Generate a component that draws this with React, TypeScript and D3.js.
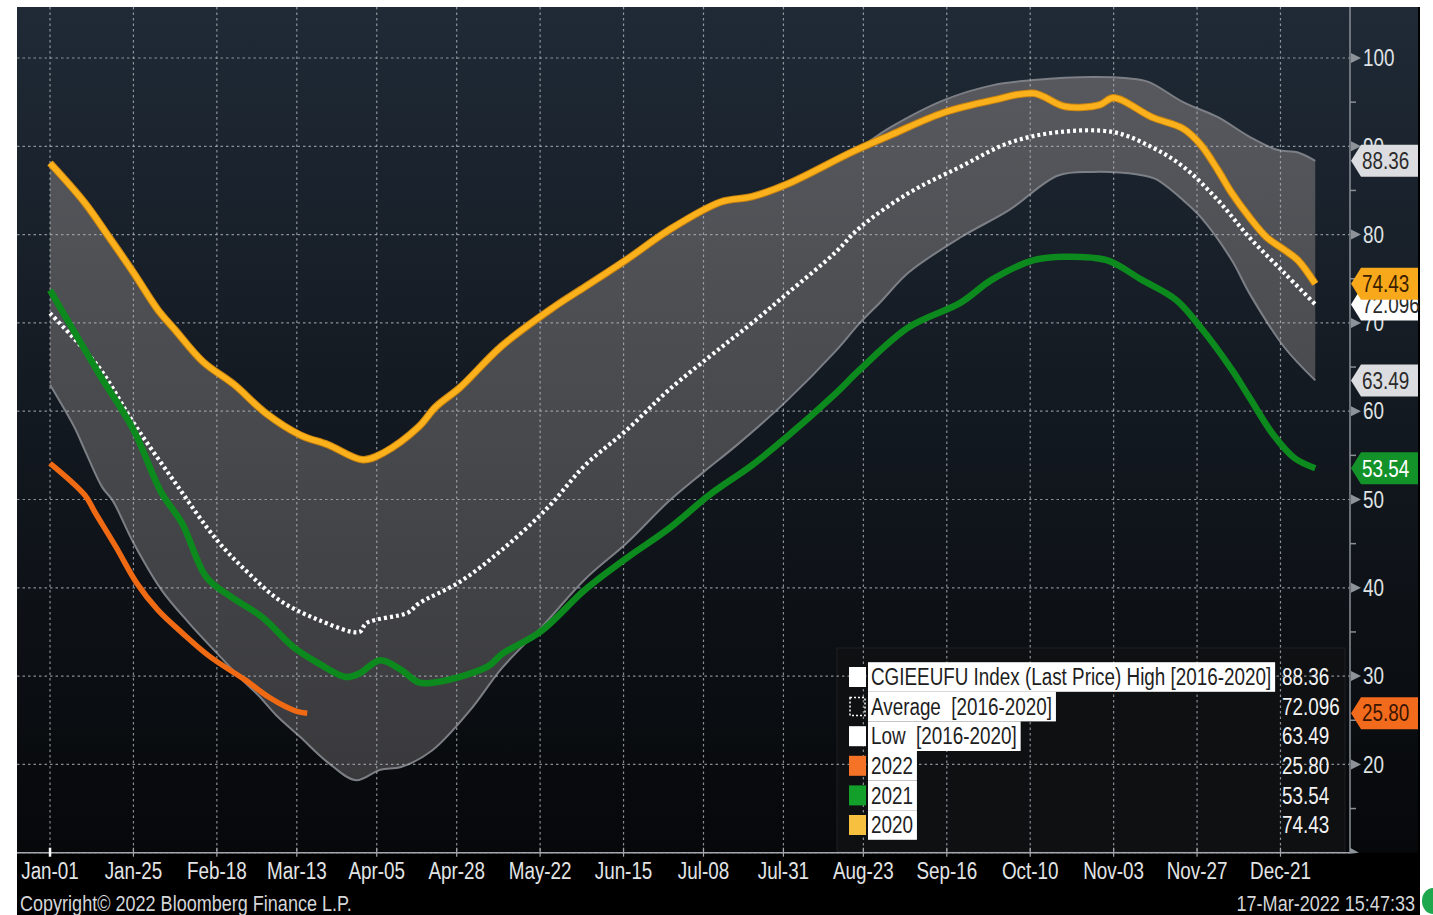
import React, { useEffect, useRef } from "react";
import * as d3 from "d3";

type Pt = [number, number]; // [day of year, value]

// x axis ticks (day of year) and their labels
const tickDays = [0, 24, 48, 71, 94, 117, 141, 165, 188, 211, 234, 258, 282, 306, 330, 354];
const tickLabels = [
  "Jan-01", "Jan-25", "Feb-18", "Mar-13", "Apr-05", "Apr-28", "May-22", "Jun-15",
  "Jul-08", "Jul-31", "Aug-23", "Sep-16", "Oct-10", "Nov-03", "Nov-27", "Dec-21",
];
const yMajor = [10, 20, 30, 40, 50, 60, 70, 80, 90, 100];
const yMinor = [15, 25, 35, 45, 55, 65, 75, 85, 95];

const y2020: Pt[] = [
  [0, 88.1], [10, 83.6], [17, 79.7], [24, 75.7], [31, 71.5], [36, 69.2], [44, 65.6], [53, 63.0],
  [62, 59.8], [72, 57.3], [80, 56.2], [90, 54.5], [96, 55.3], [106, 58.2], [111, 60.5], [118, 62.7],
  [130, 67.4], [145, 71.8], [154, 74.1], [166, 77.2], [178, 80.5], [193, 83.7], [202, 84.3],
  [212, 85.7], [231, 89.4], [242, 91.3], [257, 93.8], [271, 95.2], [283, 96.0], [292, 94.5],
  [302, 94.7], [306, 95.5], [317, 93.3], [326, 92.0], [331, 90.2], [336, 87.3], [340, 84.7],
  [345, 82.0], [350, 79.7], [355, 78.3], [359, 77.1], [364, 74.43],
];

const high: Pt[] = [
  [0, 88.1], [10, 83.6], [17, 79.7], [24, 75.7], [31, 71.5], [36, 69.2], [44, 65.6], [53, 63.0],
  [62, 59.8], [72, 57.3], [80, 56.2], [90, 54.5], [96, 55.3], [106, 58.2], [111, 60.5], [118, 62.7],
  [130, 67.4], [145, 71.8], [154, 74.1], [166, 77.2], [178, 80.5], [193, 83.7], [202, 84.3],
  [212, 85.7], [231, 89.4], [242, 92.2], [257, 95.2], [271, 96.9], [283, 97.5], [300, 97.85],
  [310, 97.7], [316, 97.3], [326, 95.0], [336, 93.3], [345, 91.1], [353, 89.6], [359, 89.3],
  [364, 88.36],
];

const low: Pt[] = [
  [0, 63.0], [7, 58.2], [10, 55.6], [15, 51.4], [18, 49.9], [24, 45.1], [32, 39.8], [40, 36.0],
  [48, 32.6], [56, 29.3], [60, 27.8], [65, 25.6], [72, 23.1], [80, 20.2], [88, 18.2], [95, 19.4],
  [101, 19.7], [110, 21.6], [121, 26.2], [130, 30.9], [142, 35.8], [154, 41.0], [166, 45.1],
  [178, 49.8], [188, 53.1], [198, 56.3], [212, 61.2], [226, 66.8], [233, 70.0], [239, 72.4],
  [247, 75.7], [262, 79.7], [276, 82.8], [290, 86.7], [300, 87.1], [313, 86.8], [318, 86.3],
  [326, 83.9], [331, 82.0], [340, 77.1], [345, 73.4], [355, 67.3], [364, 63.49],
];

const average: Pt[] = [
  [0, 71.1], [14, 65.0], [24, 58.7], [36, 51.9], [48, 45.4], [57, 41.7], [66, 38.6], [77, 36.4],
  [89, 35.0], [91, 36.0], [103, 37.2], [106, 38.2], [118, 40.7], [130, 44.3], [143, 49.0],
  [154, 53.9], [166, 57.9], [178, 62.4], [193, 67.2], [202, 70.0], [212, 73.3], [226, 78.0],
  [233, 80.8], [247, 84.7], [262, 87.7], [276, 90.4], [290, 91.6], [306, 91.6], [317, 89.9],
  [326, 87.7], [336, 83.9], [345, 79.7], [355, 75.7], [364, 72.096],
];

const y2021: Pt[] = [
  [0, 73.7], [14, 64.3], [24, 57.9], [32, 50.8], [38, 47.3], [45, 41.2], [52, 39.0], [61, 36.7],
  [70, 33.3], [77, 31.5], [85, 29.9], [89, 30.3], [95, 31.8], [101, 30.7], [106, 29.3], [111, 29.3],
  [126, 31.1], [130, 32.5], [141, 35.0], [154, 39.8], [166, 43.4], [178, 46.7], [190, 50.6],
  [202, 53.9], [212, 57.1], [226, 62.0], [233, 64.7], [247, 69.5], [262, 72.3], [271, 74.9],
  [283, 77.1], [292, 77.5], [304, 77.1], [314, 74.9], [324, 72.6], [331, 69.5], [340, 64.7],
  [345, 61.6], [352, 57.3], [358, 54.7], [364, 53.54],
];

const y2022: Pt[] = [
  [0, 54.1], [10, 50.5], [13, 48.5], [19, 44.6], [25, 40.5], [31, 37.5], [38, 34.9], [46, 32.2],
  [56, 29.6], [63, 27.6], [68, 26.5], [71, 26.0], [74, 25.8],
];

const legendNames = [
  "CGIEEUFU Index (Last Price) High [2016-2020]",
  "Average  [2016-2020]",
  "Low  [2016-2020]",
  "2022",
  "2021",
  "2020",
];

const FONT = "'Liberation Sans', Arial, sans-serif";
const SX = 0.82; // narrow look of the terminal font

const App: React.FC = () => {
  const ref = useRef<SVGSVGElement>(null);

  useEffect(() => {
    document.body.style.margin = "0";
    if (!ref.current) return;
    const svg = d3.select(ref.current);
    svg.selectAll("*").remove();

    const left = 17, top = 7, right = 1350, bottom = 852.7;
    const x = d3.scaleLinear().domain([-9.5, 374]).range([left, right]);
    const y = d3.scaleLinear().domain([10, 100]).range([bottom, 58]);

    const label = (g: any, px: number, py: number, s: string, size: number, fill: string, anchor = "start") =>
      g.append("text")
        .attr("transform", `translate(${px},${py}) scale(${SX},1)`)
        .attr("dy", "0.36em")
        .attr("font-family", FONT)
        .attr("font-size", size)
        .attr("fill", fill)
        .attr("text-anchor", anchor)
        .style("white-space", "pre")
        .text(s);

    const defs = svg.append("defs");
    const bg = defs.append("linearGradient").attr("id", "bg").attr("x1", 0).attr("x2", 0).attr("y1", 0).attr("y2", 1);
    bg.append("stop").attr("offset", "0%").attr("stop-color", "#1f2a36");
    bg.append("stop").attr("offset", "45%").attr("stop-color", "#141a22");
    bg.append("stop").attr("offset", "100%").attr("stop-color", "#06080a");
    const bandGrad = defs.append("linearGradient").attr("id", "band")
      .attr("gradientUnits", "userSpaceOnUse").attr("x1", 0).attr("x2", 0).attr("y1", 70).attr("y2", 790);
    bandGrad.append("stop").attr("offset", "0%").attr("stop-color", "#57595e");
    bandGrad.append("stop").attr("offset", "100%").attr("stop-color", "#39393c");

    // page frame
    svg.append("rect").attr("width", 1433).attr("height", 915).attr("fill", "#ffffff");
    svg.append("rect").attr("x", left).attr("y", top).attr("width", 1420 - left).attr("height", 915 - top).attr("fill", "#000000");
    svg.append("rect").attr("x", left).attr("y", top).attr("width", 1418 - left).attr("height", bottom - top).attr("fill", "url(#bg)");

    const curve = d3.curveCatmullRom.alpha(0.5);
    const line = d3.line<Pt>().x((d) => x(d[0])).y((d) => y(d[1])).curve(curve);

    // high / low band
    const bandPath = line(high)! + "L" + line([...low].reverse())!.slice(1) + "Z";
    svg.append("path").attr("d", bandPath).attr("fill", "url(#band)");
    svg.append("path").attr("d", line(high)!).attr("fill", "none").attr("stroke", "#7c7f85").attr("stroke-width", 2);
    svg.append("path").attr("d", line(low)!).attr("fill", "none").attr("stroke", "#7c7f85").attr("stroke-width", 2);

    // legend background sits under the grid
    svg.append("rect").attr("x", 837).attr("y", 648).attr("width", 508).attr("height", 204)
      .attr("fill", "#0f1012").attr("stroke", "#1c1e22");

    // grid
    const grid = svg.append("g").attr("stroke", "#b3b8be").attr("stroke-opacity", 0.75)
      .attr("stroke-width", 1.2).attr("stroke-dasharray", "2.5,3");
    yMajor.forEach((v) => {
      grid.append("line").attr("x1", left).attr("x2", right).attr("y1", y(v)).attr("y2", y(v));
    });
    tickDays.forEach((d) => {
      grid.append("line").attr("x1", x(d)).attr("x2", x(d)).attr("y1", top).attr("y2", bottom);
    });

    // series lines
    svg.append("path").attr("d", line(average)!).attr("fill", "none").attr("stroke", "#ffffff")
      .attr("stroke-width", 4.2).attr("stroke-dasharray", "3,3");
    svg.append("path").attr("d", line(y2022)!).attr("fill", "none").attr("stroke", "#f06a14")
      .attr("stroke-width", 5.5).attr("stroke-linejoin", "round");
    svg.append("path").attr("d", line(y2021)!).attr("fill", "none").attr("stroke", "#0c8a1d")
      .attr("stroke-width", 6.5).attr("stroke-linejoin", "round");
    svg.append("path").attr("d", line(y2020)!).attr("fill", "none").attr("stroke", "#c98410")
      .attr("stroke-width", 7.5).attr("stroke-linejoin", "round");
    svg.append("path").attr("d", line(y2020)!).attr("fill", "none").attr("stroke", "#fbb11b")
      .attr("stroke-width", 5.5).attr("stroke-linejoin", "round");

    // bottom axis
    svg.append("line").attr("x1", left).attr("x2", right).attr("y1", bottom).attr("y2", bottom)
      .attr("stroke", "#a3a7ad").attr("stroke-width", 1.5);
    svg.append("path").attr("d", `M${right},${bottom - 5}L${right + 9},${bottom}L${right},${bottom + 1}Z`).attr("fill", "#8e939a");
    tickDays.forEach((d, i) => {
      svg.append("line").attr("x1", x(d)).attr("x2", x(d)).attr("y1", bottom - 5).attr("y2", bottom + 4)
        .attr("stroke", i === 0 ? "#ffffff" : "#a3a7ad").attr("stroke-width", i === 0 ? 2.5 : 1.2);
      label(svg, x(d), 871, tickLabels[i], 23, "#e2e4e6", "middle");
    });

    // right axis
    svg.append("line").attr("x1", right).attr("x2", right).attr("y1", top).attr("y2", bottom)
      .attr("stroke", "#8a8f96").attr("stroke-width", 1.5);
    yMinor.forEach((v) => {
      svg.append("line").attr("x1", right).attr("x2", right + 6).attr("y1", y(v)).attr("y2", y(v))
        .attr("stroke", "#8a8f96").attr("stroke-width", 1.5);
    });
    yMajor.filter((v) => v > 10).forEach((v) => {
      svg.append("path").attr("d", `M${right + 1},${y(v) - 5}L${right + 11},${y(v)}L${right + 1},${y(v) + 5}Z`)
        .attr("fill", "#8e939a");
      label(svg, 1363, y(v), String(v), 23, "#dfe1e3");
    });

    // last value tags
    const tagList = [
      { data: average, digits: 3, fill: "#ffffff", text: "#2b2b2b" },
      { data: y2020, digits: 2, fill: "#f7a81b", text: "#3a2000" },
      { data: high, digits: 2, fill: "#dcdde0", text: "#2b2b2b" },
      { data: low, digits: 2, fill: "#dcdde0", text: "#2b2b2b" },
      { data: y2021, digits: 2, fill: "#14922a", text: "#ffffff" },
      { data: y2022, digits: 2, fill: "#f26b1d", text: "#3a1500" },
    ];
    tagList.forEach((t) => {
      const v = t.data[t.data.length - 1][1];
      const cy = y(v);
      svg.append("path")
        .attr("d", `M${right + 1},${cy}L${right + 11},${cy - 16}L1418,${cy - 16}L1418,${cy + 16}L${right + 11},${cy + 16}Z`)
        .attr("fill", t.fill);
      label(svg, 1362, cy, v.toFixed(t.digits), 23, t.text);
    });

    // legend
    const legendSeries = [
      { data: high, digits: 2, marker: "#ffffff" },
      { data: average, digits: 3, marker: "dashed" },
      { data: low, digits: 2, marker: "#ffffff" },
      { data: y2022, digits: 2, marker: "#f47326" },
      { data: y2021, digits: 2, marker: "#12a02a" },
      { data: y2020, digits: 2, marker: "#f7c03f" },
    ];
    legendSeries.forEach((s, i) => {
      const cy = 677 + i * 29.6;
      if (s.marker === "dashed") {
        svg.append("rect").attr("x", 850).attr("y", cy - 9).attr("width", 15).attr("height", 18)
          .attr("fill", "none").attr("stroke", "#ffffff").attr("stroke-width", 1.5).attr("stroke-dasharray", "2,2");
      } else {
        svg.append("rect").attr("x", 849).attr("y", cy - 10).attr("width", 17).attr("height", 20).attr("fill", s.marker);
      }
      const hl = svg.append("rect").attr("x", 868).attr("y", cy - 14.8).attr("height", 29.6).attr("fill", "#ffffff");
      const t = label(svg, 871, cy, legendNames[i], 23, "#1e1e1e");
      const w = (t.node() as SVGTextElement).getComputedTextLength() * SX;
      hl.attr("width", w + 7);
      const last = s.data[s.data.length - 1][1];
      label(svg, 1282, cy, last.toFixed(s.digits), 23, "#f2f2f2");
    });

    // footer
    label(svg, 20, 903, "Copyright\u00a9 2022 Bloomberg Finance L.P.", 22, "#d4d6d8");
    label(svg, 1415, 903, "17-Mar-2022 15:47:33", 22, "#d4d6d8", "end");
    svg.append("ellipse").attr("cx", 1433).attr("cy", 901).attr("rx", 11).attr("ry", 13).attr("fill", "#1ea84e");
  }, []);

  return <svg ref={ref} width={1433} height={915} style={{ display: "block" }} />;
};

export default App;
